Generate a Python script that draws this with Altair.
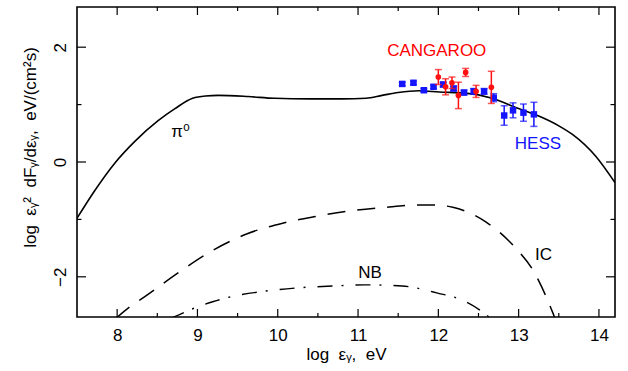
import altair as alt
import pandas as pd

# pi0 curve (solid)
pi_x = [7.5, 7.72, 7.97, 8.22, 8.51, 8.72, 8.94, 9.1, 9.26, 9.63, 9.96, 10.4, 10.8, 11.1, 11.3, 11.5, 11.76, 12.01, 12.34, 12.67, 13.0, 13.25, 13.5, 13.67, 13.96, 14.2]
pi_y = [-0.98, -0.50, -0.02, 0.36, 0.72, 0.93, 1.11, 1.15, 1.16, 1.14, 1.11, 1.10, 1.10, 1.11, 1.16, 1.21, 1.24, 1.22, 1.20, 1.11, 0.93, 0.80, 0.63, 0.48, 0.10, -0.36]

# IC curve (dashed)
ic_x = [7.98, 8.16, 8.34, 8.77, 9.19, 9.62, 10.05, 10.47, 10.90, 11.33, 11.76, 11.97, 12.18, 12.60, 12.93, 13.21, 13.40, 13.45, 13.5]
ic_y = [-2.73, -2.52, -2.35, -1.92, -1.54, -1.25, -1.07, -0.95, -0.85, -0.79, -0.75, -0.75, -0.79, -1.05, -1.45, -1.96, -2.54, -2.72, -3.0]

# NB curve (dash-dot)
nb_x = [8.66, 8.99, 9.2, 9.41, 9.84, 10.27, 10.70, 11.08, 11.55, 11.98, 12.32, 12.64, 12.75]
nb_y = [-2.73, -2.53, -2.43, -2.35, -2.25, -2.19, -2.16, -2.14, -2.16, -2.28, -2.42, -2.71, -2.85]

# HESS points
hess_x = [11.55, 11.69, 11.82, 11.94, 12.06, 12.19, 12.32, 12.44, 12.57, 12.69, 12.82, 12.93, 13.06, 13.19]
hess_y = [1.36, 1.38, 1.25, 1.31, 1.35, 1.28, 1.21, 1.23, 1.23, 1.12, 0.81, 0.90, 0.86, 0.83]
hess_e = [0.03, 0.03, 0.03, 0.03, 0.04, 0.04, 0.04, 0.05, 0.05, 0.07, 0.17, 0.13, 0.15, 0.21]

# CANGAROO points
cang_x = [12.0, 12.09, 12.17, 12.25, 12.34, 12.47, 12.66]
cang_y = [1.48, 1.31, 1.38, 1.16, 1.56, 1.23, 1.30]
cang_e = [0.13, 0.14, 0.10, 0.23, 0.07, 0.105, 0.28]

# labels
lab_text = ["CANGAROO", "HESS", "π⁰", "IC", "NB"]
lab_x = [11.98, 13.24, 8.79, 13.31, 11.15]
lab_y = [1.93, 0.32, 0.53, -1.62, -1.94]
lab_col = ["#ff0000", "#1414ff", "black", "black", "black"]

x_major = [8, 9, 10, 11, 12, 13, 14]
x_minor = [8.5, 9.5, 10.5, 11.5, 12.5, 13.5]
y_major = [-2, 0, 2]
y_minor = [-1, 1]

W, H = 538, 310
FONT = "Liberation Sans, DejaVu Sans, sans-serif"
FS = 17
NB_SP = "\u00a0"

xs = alt.Scale(domain=[7.5, 14.2], nice=False, zero=False)
ys = alt.Scale(domain=[-2.7, 2.7], nice=False, zero=False)

pi_df = pd.DataFrame({"x": pi_x, "y": pi_y})
ic_df = pd.DataFrame({"x": ic_x, "y": ic_y})
nb_df = pd.DataFrame({"x": nb_x, "y": nb_y})
h_df = pd.DataFrame({"x": hess_x, "y": hess_y, "e": hess_e})
h_df["lo"] = h_df["y"] - h_df["e"]
h_df["hi"] = h_df["y"] + h_df["e"]
c_df = pd.DataFrame({"x": cang_x, "y": cang_y, "e": cang_e})
c_df["lo"] = c_df["y"] - c_df["e"]
c_df["hi"] = c_df["y"] + c_df["e"]
lab_df = pd.DataFrame({"t": lab_text, "x": lab_x, "y": lab_y, "c": lab_col})

x_title = "log" + NB_SP * 2 + "εᵧ," + NB_SP * 2 + "eV"
y_title = "log" + NB_SP * 2 + "εᵧ²" + NB_SP * 2 + "dFᵧ/dεᵧ," + NB_SP * 2 + "eV/(cm²s)"

xaxis = alt.Axis(values=x_major, format="d", ticks=False, domain=False, grid=False,
                 labelFontSize=FS, labelFont=FONT, labelColor="black", labelPadding=10,
                 title=x_title, titleFontSize=FS, titleFont=FONT, titleFontWeight="normal",
                 titleColor="black", titleY=42, titleBaseline="alphabetic")
yaxis = alt.Axis(values=y_major, format="d", ticks=False, domain=False, grid=False,
                 labelFontSize=FS, labelFont=FONT, labelColor="black", labelPadding=12,
                 labelAngle=270, labelAlign="center", labelBaseline="alphabetic",
                 title=y_title, titleFontSize=FS, titleFont=FONT,
                 titleFontWeight="normal", titleColor="black", titleX=-42, titleY=140,
                 titleAngle=270, titleAlign="center", titleBaseline="alphabetic")

pi_line = alt.Chart(pi_df).mark_line(color="black", strokeWidth=1.6, clip=True, interpolate="monotone").encode(
    x=alt.X("x:Q", scale=xs, axis=xaxis), y=alt.Y("y:Q", scale=ys, axis=yaxis))
ic_line = alt.Chart(ic_df).mark_line(color="black", strokeWidth=1.5, clip=True, interpolate="monotone",
                                     strokeDash=[18, 12]).encode(x="x:Q", y="y:Q")
nb_line = alt.Chart(nb_df).mark_line(color="black", strokeWidth=1.4, clip=True, interpolate="monotone",
                                     strokeDash=[15, 9, 2, 12]).encode(x="x:Q", y="y:Q")

def points(df, color, shape_mark):
    bars = alt.Chart(df).mark_rule(color=color, strokeWidth=1.5).encode(x="x:Q", y="lo:Q", y2="hi:Q")
    cap_hi = alt.Chart(df).mark_tick(color=color, orient="horizontal", size=7, thickness=1.5).encode(x="x:Q", y="hi:Q")
    cap_lo = alt.Chart(df).mark_tick(color=color, orient="horizontal", size=7, thickness=1.5).encode(x="x:Q", y="lo:Q")
    return bars + cap_hi + cap_lo + shape_mark

h_pts = points(h_df, "#1414ff",
               alt.Chart(h_df).mark_square(color="#1414ff", size=42, opacity=1).encode(x="x:Q", y="y:Q"))
c_pts = points(c_df, "#ff1010",
               alt.Chart(c_df).mark_circle(color="#ff1010", size=32, opacity=1).encode(x="x:Q", y="y:Q"))

labels = alt.Chart(lab_df).mark_text(fontSize=FS, font=FONT, align="center", baseline="middle").encode(
    x="x:Q", y="y:Q", text="t:N", color=alt.Color("c:N", scale=None))

# inward ticks on all four sides
xmaj = pd.DataFrame({"v": x_major})
xmin = pd.DataFrame({"v": x_minor})
ymaj = pd.DataFrame({"v": y_major})
ymin = pd.DataFrame({"v": y_minor})

def xticks(df, L):
    b = alt.Chart(df).mark_rule(color="black", strokeWidth=1.2).encode(
        x="v:Q", y=alt.value(H), y2=alt.value(H - L))
    t = alt.Chart(df).mark_rule(color="black", strokeWidth=1.2).encode(
        x="v:Q", y=alt.value(0), y2=alt.value(L))
    return b + t

def yticks(df, L):
    l = alt.Chart(df).mark_rule(color="black", strokeWidth=1.2).encode(
        y="v:Q", x=alt.value(0), x2=alt.value(L))
    r = alt.Chart(df).mark_rule(color="black", strokeWidth=1.2).encode(
        y="v:Q", x=alt.value(W), x2=alt.value(W - L))
    return l + r

chart = alt.layer(
    pi_line, ic_line, nb_line, h_pts, c_pts, labels,
    xticks(xmaj, 8), xticks(xmin, 4), yticks(ymaj, 9), yticks(ymin, 4.5)
).properties(
    width=W, height=H,
    padding={"left": 77, "top": 7, "right": 13, "bottom": 54},
    autosize=alt.AutoSizeParams(type="none"),
    background="white",
).configure_view(stroke="black", strokeWidth=1.6)

chart.save("out.html", embed_options={"renderer": "svg", "actions": False})
